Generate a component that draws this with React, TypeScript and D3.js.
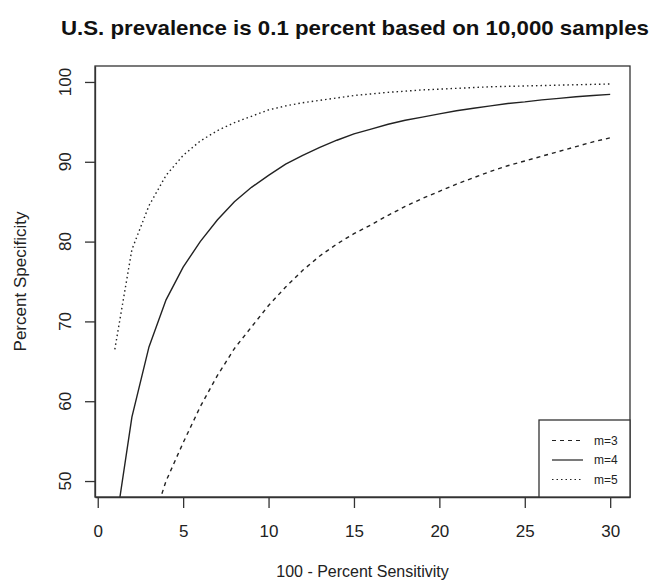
import React, { useEffect, useRef } from 'react';
import * as d3 from 'd3';

// x = 100 - percent sensitivity
const xValues = [1, 2, 3, 4, 5, 6, 7, 8, 9, 10, 11, 12, 13, 14, 15, 16, 17, 18, 19, 20, 21, 22, 23, 24, 25, 26, 27, 28, 29, 30];

// percent specificity per pool size
const m3 = [20, 33, 43.5, 50.0, 54.8, 59.3, 63.2, 66.6, 69.3, 72.0, 74.3, 76.4, 78.2, 79.7, 81.0, 82.1, 83.3, 84.4, 85.4, 86.3, 87.2, 88.0, 88.8, 89.5, 90.1, 90.7, 91.3, 91.9, 92.5, 93.0];
const m4 = [43.7, 58.0, 66.8, 72.7, 76.8, 80.0, 82.7, 85.0, 86.8, 88.3, 89.7, 90.8, 91.8, 92.7, 93.5, 94.1, 94.7, 95.2, 95.6, 96.0, 96.4, 96.7, 97.0, 97.3, 97.5, 97.75, 97.95, 98.15, 98.3, 98.45];
const m5 = [66.5, 79.0, 84.5, 88.3, 90.8, 92.6, 93.9, 94.9, 95.7, 96.5, 97.0, 97.4, 97.7, 98.0, 98.3, 98.5, 98.7, 98.85, 99.0, 99.1, 99.2, 99.3, 99.4, 99.45, 99.5, 99.55, 99.6, 99.65, 99.7, 99.75];

const seriesNames = ['m=3', 'm=4', 'm=5'];
const dashes = ['4,4', null, '1.5,3'];

const xTicks = [0, 5, 10, 15, 20, 25, 30];
const yTicks = [50, 60, 70, 80, 90, 100];

const title = 'U.S. prevalence is 0.1 percent based on 10,000 samples';
const xLabel = '100 - Percent Sensitivity';
const yLabel = 'Percent Specificity';

const W = 656;
const H = 583;
const FONT = '"Liberation Sans", Arial, sans-serif';

function App(): JSX.Element {
  const svgRef = useRef() as React.RefObject<SVGSVGElement>;

  useEffect(() => {
    const svg = d3.select(svgRef.current);
    svg.selectAll('*').remove();

    const left = 95, right = 630, top = 66, bottom = 497;

    // R style 4% padding around the data range
    const xScale = d3.scaleLinear().domain([1 - 29 * 0.04, 30 + 29 * 0.04]).range([left, right]);
    const yScale = d3.scaleLinear().domain([50 - 50 * 0.04, 100 + 50 * 0.04]).range([bottom, top]);

    svg.append('rect').attr('width', W).attr('height', H).attr('fill', 'white');

    svg.append('defs').append('clipPath').attr('id', 'plotclip')
      .append('rect')
      .attr('x', left).attr('y', top)
      .attr('width', right - left).attr('height', bottom - top);

    // lines
    const allSeries = [m3, m4, m5];
    const line = d3.line<number>()
      .x((d, i) => xScale(xValues[i]))
      .y(d => yScale(d));

    const lines = svg.append('g').attr('clip-path', 'url(#plotclip)');
    allSeries.forEach((s, i) => {
      lines.append('path')
        .attr('d', line(s))
        .attr('fill', 'none')
        .attr('stroke', '#222')
        .attr('stroke-width', 1.4)
        .attr('stroke-dasharray', dashes[i]);
    });

    // box
    svg.append('rect')
      .attr('x', left).attr('y', top)
      .attr('width', right - left).attr('height', bottom - top)
      .attr('fill', 'none').attr('stroke', '#333').attr('stroke-width', 1.3);

    // x axis
    const xAxis = svg.append('g')
      .attr('transform', `translate(0,${bottom})`)
      .call(d3.axisBottom(xScale).tickValues(xTicks).tickSize(11).tickPadding(17).tickSizeOuter(0));
    xAxis.select('.domain').attr('stroke', '#333').attr('stroke-width', 1.3);
    xAxis.selectAll('.tick line').attr('stroke', '#333').attr('stroke-width', 1.3);
    xAxis.selectAll('.tick text')
      .attr('font-family', FONT).attr('font-size', 17).attr('fill', '#222');

    // y axis
    const yAxis = svg.append('g')
      .attr('transform', `translate(${left},0)`)
      .call(d3.axisLeft(yScale).tickValues(yTicks).tickSize(10).tickSizeOuter(0).tickFormat(() => ''));
    yAxis.select('.domain').attr('stroke', '#333').attr('stroke-width', 1.3);
    yAxis.selectAll('.tick line').attr('stroke', '#333').attr('stroke-width', 1.3);

    // rotated y tick labels
    svg.append('g').selectAll('text')
      .data(yTicks)
      .join('text')
      .attr('transform', d => `translate(71,${yScale(d)}) rotate(-90)`)
      .attr('text-anchor', 'middle')
      .attr('font-family', FONT).attr('font-size', 17).attr('fill', '#222')
      .text(d => d);

    // title and axis labels
    svg.append('text')
      .attr('x', 355).attr('y', 35)
      .attr('text-anchor', 'middle')
      .attr('font-family', FONT).attr('font-size', 21).attr('font-weight', 'bold')
      .attr('fill', '#111')
      .attr('textLength', 588).attr('lengthAdjust', 'spacingAndGlyphs')
      .text(title);

    svg.append('text')
      .attr('x', (left + right) / 2).attr('y', 577)
      .attr('text-anchor', 'middle')
      .attr('font-family', FONT).attr('font-size', 16).attr('fill', '#222')
      .text(xLabel);

    svg.append('text')
      .attr('transform', `translate(26,${(top + bottom) / 2}) rotate(-90)`)
      .attr('text-anchor', 'middle')
      .attr('font-family', FONT).attr('font-size', 17).attr('fill', '#222')
      .text(yLabel);

    // legend
    const lg = svg.append('g');
    lg.append('rect')
      .attr('x', 539).attr('y', 420)
      .attr('width', right - 539).attr('height', bottom - 420)
      .attr('fill', 'white').attr('stroke', '#333').attr('stroke-width', 1.3);
    seriesNames.forEach((name, i) => {
      const ly = 440.5 + i * 19.5;
      lg.append('line')
        .attr('x1', 552).attr('x2', 583)
        .attr('y1', ly).attr('y2', ly)
        .attr('stroke', '#222').attr('stroke-width', 1.2)
        .attr('stroke-dasharray', dashes[i]);
      lg.append('text')
        .attr('x', 594).attr('y', ly + 4)
        .attr('font-family', FONT).attr('font-size', 12).attr('fill', '#222')
        .text(name);
    });
  }, []);

  return (
    <div>
      <svg ref={svgRef} width={W} height={H} style={{ position: 'absolute', left: 0, top: 0 }}></svg>
    </div>
  );
}

export default App;
